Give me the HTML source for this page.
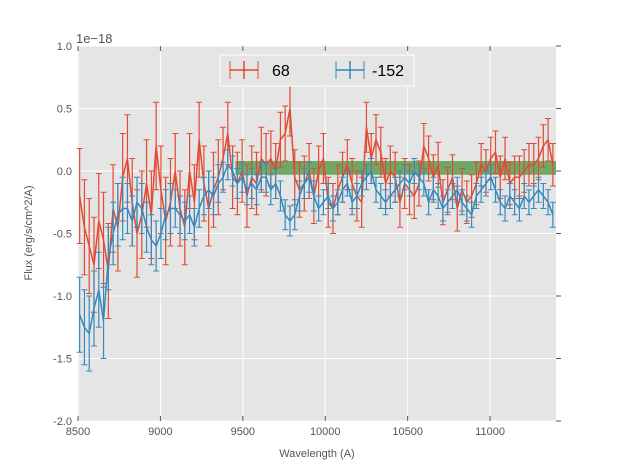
<!DOCTYPE html>
<html><head><meta charset="utf-8"><style>
body{margin:0;background:#fff;}
svg text{font-family:"Liberation Sans",sans-serif;fill:#555;}
</style></head><body>
<svg id="chart" width="617" height="467">
<rect x="78" y="46" width="478" height="375" fill="#e5e5e5"/>
<g id="grid"></g>
<g id="band"></g>
<g id="series"></g>
<g id="axes"></g>
<text x="76" y="43" font-size="13">1e−18</text>
<text x="317" y="457" font-size="11" text-anchor="middle">Wavelength (A)</text>
<text x="32" y="233" font-size="11" text-anchor="middle" transform="rotate(-90 32 233)">Flux (erg/s/cm^2/A)</text>
<g>
<rect x="220" y="55" width="194" height="31" fill="#e5e5e5" stroke="#fff" stroke-width="1"/>
<g>
<line x1="230" y1="70" x2="258" y2="70" stroke="#E24A33" stroke-width="1.5"/>
<line x1="244" y1="61" x2="244" y2="79" stroke="#E24A33" stroke-width="1.5"/>
<line x1="230" y1="61" x2="230" y2="79" stroke="#E24A33"/><line x1="258" y1="61" x2="258" y2="79" stroke="#E24A33"/>
<text x="272" y="76" font-size="16" style="fill:#000">68</text></g>
<g>
<line x1="336" y1="70" x2="364" y2="70" stroke="#348ABD" stroke-width="1.5"/>
<line x1="350" y1="61" x2="350" y2="79" stroke="#348ABD" stroke-width="1.5"/>
<line x1="336" y1="61" x2="336" y2="79" stroke="#348ABD"/><line x1="364" y1="61" x2="364" y2="79" stroke="#348ABD"/>
<text x="372" y="76" font-size="16" style="fill:#000">-152</text></g>
</g>
</svg>
<script>
const xTicks=[8500,9000,9500,10000,10500,11000];
const yTicks=[1.0,0.5,0.0,-0.5,-1.0,-1.5,-2.0];
const yTickLabels=["1.0","0.5","0.0","-0.5","-1.0","-1.5","-2.0"];
const wlStart=8510, wlStep=29;
const red=[-0.2,-0.45,-0.6,-0.75,-0.4,-0.55,-0.8,-0.3,-0.45,-0.05,
0.1,-0.25,-0.5,-0.35,-0.1,-0.35,0.2,-0.15,-0.4,-0.25,
0.0,-0.3,-0.45,0.0,-0.25,0.25,-0.1,-0.3,-0.15,-0.05,
0.1,0.3,-0.05,-0.1,0.0,-0.2,-0.05,-0.1,0.1,0.05,
0.1,0.0,0.25,0.3,0.5,-0.05,-0.15,-0.1,0.0,-0.2,
0.0,0.1,-0.25,-0.3,-0.15,-0.05,0.05,-0.1,-0.2,-0.25,
0.35,0.1,0.25,0.15,-0.1,0.0,-0.05,-0.25,-0.1,-0.15,
-0.2,-0.1,0.2,0.1,-0.05,0.05,-0.25,-0.15,-0.05,-0.3,
-0.15,-0.25,-0.2,-0.1,0.05,0.0,0.1,0.15,-0.05,0.1,
-0.1,-0.05,-0.05,0.0,0.05,0.05,0.1,0.2,0.25,0.05];
const redErr=[0.38,0.38,0.38,0.38,0.38,0.38,0.38,0.35,0.35,0.35,
0.35,0.35,0.35,0.35,0.35,0.35,0.35,0.35,0.35,0.35,
0.3,0.3,0.3,0.3,0.3,0.3,0.3,0.3,0.3,0.3,
0.25,0.25,0.25,0.25,0.25,0.25,0.25,0.25,0.25,0.25,
0.22,0.22,0.22,0.22,0.22,0.22,0.22,0.22,0.22,0.22,
0.2,0.2,0.2,0.2,0.2,0.2,0.2,0.2,0.2,0.2,
0.2,0.2,0.2,0.2,0.2,0.2,0.2,0.2,0.2,0.2,
0.18,0.18,0.18,0.18,0.18,0.18,0.18,0.18,0.18,0.18,
0.17,0.17,0.17,0.17,0.17,0.17,0.17,0.17,0.17,0.17,
0.17,0.17,0.17,0.17,0.17,0.17,0.17,0.17,0.17,0.17];
const blue=[-1.15,-1.25,-1.3,-1.1,-0.95,-1.2,-0.7,-0.5,-0.35,-0.3,
-0.3,-0.4,-0.25,-0.3,-0.45,-0.55,-0.6,-0.5,-0.35,-0.3,
-0.3,-0.35,-0.4,-0.35,-0.45,-0.3,-0.2,-0.15,-0.2,-0.1,
-0.05,0.05,0.0,-0.1,-0.05,-0.15,-0.1,-0.15,-0.05,-0.05,
-0.15,-0.1,-0.2,-0.35,-0.4,-0.35,-0.2,-0.1,-0.05,-0.2,
-0.3,-0.25,-0.2,-0.3,-0.25,-0.15,-0.1,-0.25,-0.2,-0.1,
-0.05,0.0,-0.15,-0.2,-0.25,-0.2,-0.15,-0.1,-0.05,-0.1,
0.0,-0.05,-0.1,-0.25,-0.15,-0.2,-0.3,-0.25,-0.2,-0.15,
-0.25,-0.3,-0.35,-0.2,-0.15,-0.1,-0.05,-0.15,-0.25,-0.3,
-0.2,-0.25,-0.3,-0.2,-0.25,-0.2,-0.15,-0.2,-0.25,-0.35];
const blueErr=[0.3,0.3,0.3,0.3,0.3,0.3,0.25,0.25,0.25,0.25,
0.2,0.2,0.2,0.2,0.2,0.2,0.2,0.2,0.2,0.2,
0.15,0.15,0.15,0.15,0.15,0.15,0.15,0.15,0.15,0.15,
0.12,0.12,0.12,0.12,0.12,0.12,0.12,0.12,0.12,0.12,
0.12,0.12,0.12,0.12,0.12,0.12,0.12,0.12,0.12,0.12,
0.1,0.1,0.1,0.1,0.1,0.1,0.1,0.1,0.1,0.1,
0.1,0.1,0.1,0.1,0.1,0.1,0.1,0.1,0.1,0.1,
0.1,0.1,0.1,0.1,0.1,0.1,0.1,0.1,0.1,0.1,
0.1,0.1,0.1,0.1,0.1,0.1,0.1,0.1,0.1,0.1,
0.1,0.1,0.1,0.1,0.1,0.1,0.1,0.1,0.1,0.1];
const bandX=[9455,11400], bandY=[0.08,-0.03];

const NS="http://www.w3.org/2000/svg";
const X0=78,X1=556,Y0=46,Y1=421,xmin=8500,xmax=11400,ymin=-2,ymax=1;
const sx=v=>X0+(v-xmin)/(xmax-xmin)*(X1-X0);
const sy=v=>Y1-(v-ymin)/(ymax-ymin)*(Y1-Y0);
function mk(t,a,p){const e=document.createElementNS(NS,t);for(const k in a)e.setAttribute(k,a[k]);p.appendChild(e);return e;}
const grid=document.getElementById('grid'),axes=document.getElementById('axes');
xTicks.forEach(t=>{
 const g=mk('line',{x1:sx(t),x2:sx(t),y1:Y0,y2:Y1,stroke:'#fff','stroke-width':1},grid);
 
 
 mk('line',{x1:sx(t),x2:sx(t),y1:Y1,y2:Y1-5,stroke:'#555'},axes);
 mk('line',{x1:sx(t),x2:sx(t),y1:Y0,y2:Y0+5,stroke:'#555'},axes);
 const l=mk('text',{x:sx(t),y:Y1+14,'font-size':11,'text-anchor':'middle'},axes);l.textContent=t;
 
 
});
yTicks.forEach((t,i)=>{
 const g=mk('line',{x1:X0,x2:X1,y1:sy(t),y2:sy(t),stroke:'#fff','stroke-width':1},grid);
 
 
 mk('line',{x1:X1,x2:X1+5,y1:sy(t),y2:sy(t),stroke:'#555'},axes);
 const l=mk('text',{x:X0-6,y:sy(t)+4,'font-size':11,'text-anchor':'end'},axes);l.textContent=yTickLabels[i];
 
 
});
const b=mk('rect',{x:sx(bandX[0]),y:sy(bandY[0]),width:sx(bandX[1])-sx(bandX[0]),height:sy(bandY[1])-sy(bandY[0]),fill:'#3d8f2e','fill-opacity':0.7},document.getElementById('band'));


function series(vals,errs,color,name){
 const g=mk('g',{},document.getElementById('series'));
 
 
 let d='';
 vals.forEach((v,i)=>{const x=sx(wlStart+i*wlStep);
  mk('line',{x1:x,x2:x,y1:sy(v+errs[i]),y2:sy(v-errs[i]),stroke:color,'stroke-width':1.2},g);
  mk('line',{x1:x-3,x2:x+3,y1:sy(v+errs[i]),y2:sy(v+errs[i]),stroke:color,'stroke-width':1},g);
  mk('line',{x1:x-3,x2:x+3,y1:sy(v-errs[i]),y2:sy(v-errs[i]),stroke:color,'stroke-width':1},g);
  d+=(i?'L':'M')+x.toFixed(1)+','+sy(v).toFixed(1);});
 mk('path',{d:d,fill:'none',stroke:color,'stroke-width':1.5},g);
}
series(red,redErr,'#E24A33','series-68');
series(blue,blueErr,'#348ABD','series-neg152');
</script>
</body></html>
